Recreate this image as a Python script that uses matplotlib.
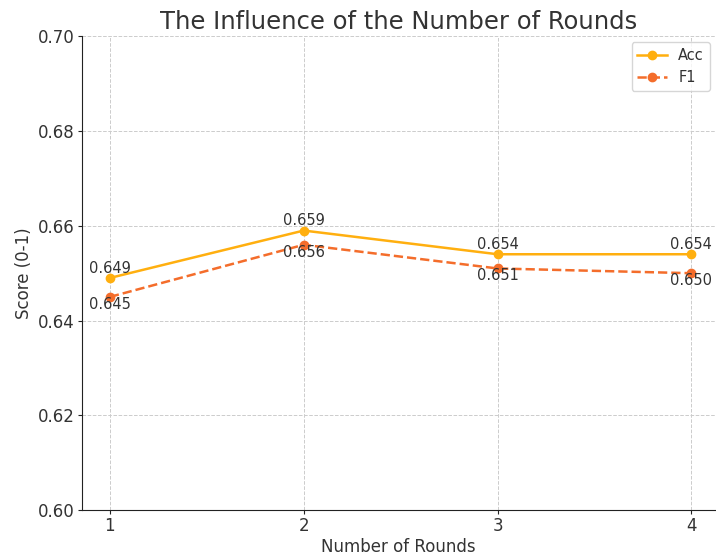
import matplotlib
matplotlib.use("Agg")
import matplotlib.pyplot as plt

rounds = [1, 2, 3, 4]
acc = [0.649, 0.659, 0.654, 0.654]
f1 = [0.645, 0.656, 0.651, 0.650]
yticks = [0.60, 0.62, 0.64, 0.66, 0.68, 0.70]

text_color = "#333333"
fig = plt.figure(figsize=(7.16, 5.57), dpi=100)
ax = fig.add_axes([0.1145, 0.084, 0.885, 0.851])

ax.plot(rounds, acc, color="#FFAF0F", marker="o", markersize=6, linewidth=1.8, label="Acc")
ax.plot(rounds, f1, color="#F46D2B", marker="o", markersize=6, linewidth=1.8, linestyle="--", label="F1")

for x, y in zip(rounds, acc):
    ax.annotate(f"{y:.3f}", (x, y), xytext=(0, 1.5), textcoords="offset points",
                ha="center", va="bottom", fontsize=10.5, color=text_color)
for x, y in zip(rounds, f1):
    ax.annotate(f"{y:.3f}", (x, y), xytext=(0, 0), textcoords="offset points",
                ha="center", va="top", fontsize=10.5, color=text_color)

ax.set_xlim(0.856, 4.125)
ax.set_ylim(0.60, 0.70)
ax.set_xticks(rounds)
ax.set_yticks(yticks)
ax.set_yticklabels([f"{t:.2f}" for t in yticks])
ax.tick_params(labelsize=12, length=3, pad=2, colors="#222222", labelcolor=text_color)
ax.grid(True, linestyle="--", color="#cccccc", linewidth=0.7)
for s in ["top", "right"]:
    ax.spines[s].set_visible(False)
ax.spines["left"].set_color("#222222")
ax.spines["bottom"].set_color("#222222")

ax.set_xlabel("Number of Rounds", fontsize=12, color=text_color, labelpad=2)
ax.set_ylabel("Score (0-1)", fontsize=12, color=text_color, labelpad=4)
ax.set_title("The Influence of the Number of Rounds", fontsize=17.5, color=text_color, pad=5)
leg = ax.legend(loc="upper right", fontsize=10.5, labelcolor=text_color, borderaxespad=0.4)

fig.savefig("out.png", dpi=100)
